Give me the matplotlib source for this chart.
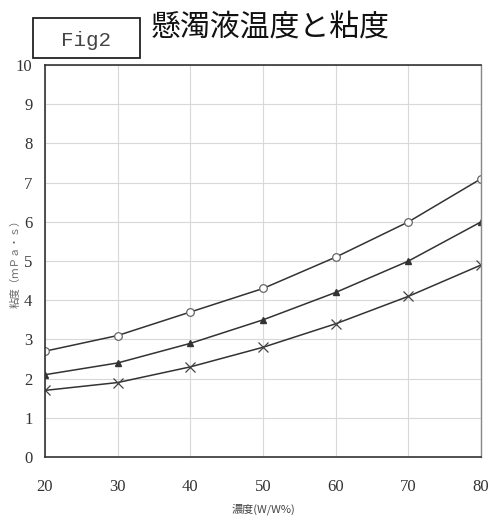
import matplotlib
matplotlib.use('Agg')
import matplotlib.pyplot as plt
from matplotlib.patches import Rectangle

# concentration (W/W%) and viscosity (mPa·s) for the three temperature series
conc = [20, 30, 40, 50, 60, 70, 80]
visc_high = [2.7, 3.1, 3.7, 4.3, 5.1, 6.0, 7.1]
visc_mid = [2.1, 2.4, 2.9, 3.5, 4.2, 5.0, 6.0]
visc_low = [1.7, 1.9, 2.3, 2.8, 3.4, 4.1, 4.9]

xticks = [20, 30, 40, 50, 60, 70, 80]
yticks = list(range(0, 11))

cjk = ['Noto Sans CJK JP', 'DejaVu Sans']
serif = 'Liberation Serif'

fig = plt.figure(figsize=(4.97, 5.25), dpi=100)
ax = fig.add_axes([0.0905, 0.1295, 0.8775, 0.7465])

line_kw = dict(color='#333333', linewidth=1.1)
ax.plot(conc, visc_high, marker='o', markersize=5.5, markerfacecolor='white',
        markeredgecolor='#666666', markeredgewidth=0.9, **line_kw)
ax.plot(conc, visc_mid, marker='^', markersize=5, markerfacecolor='#333333',
        markeredgecolor='#333333', **line_kw)
ax.plot(conc, visc_low, marker='x', markersize=7, markeredgecolor='#444444',
        markeredgewidth=0.9, **line_kw)

ax.set_xlim(20, 80)
ax.set_ylim(0, 10)
ax.set_xticks(xticks)
ax.set_yticks(yticks)
ax.grid(True, color='#d8d8d8', linewidth=0.8)
ax.tick_params(length=0, pad=16)
ax.tick_params(axis='y', pad=9)
for lab in ax.get_xticklabels() + ax.get_yticklabels():
    lab.set_fontfamily(serif)
    lab.set_fontsize(12)
    lab.set_color('#333333')

for side in ['left', 'bottom', 'top']:
    ax.spines[side].set_color('#333333')
    ax.spines[side].set_linewidth(1.2)
ax.spines['right'].set_color('#888888')
ax.spines['right'].set_linewidth(1.0)

ax.set_xlabel('濃度(W/W%)', family=cjk, fontsize=8, color='#444444', labelpad=6)
ax.set_ylabel('粘度（ｍＰａ・ｓ）', family=cjk, fontsize=7.5, color='#666666')
ax.yaxis.set_label_coords(-0.055, 0.5)

# figure tag box and title
fig.patches.append(Rectangle((33 / 497, 1 - 58 / 525), 107 / 497, 40 / 525,
                             transform=fig.transFigure, fill=False,
                             edgecolor='#222222', linewidth=1.3))
fig.text(86 / 497, 1 - 40 / 525, 'Fig2', family='Liberation Mono', fontsize=15,
         color='#444444', ha='center', va='center')
fig.text(270 / 497, 1 - 27 / 525, '懸濁液温度と粘度', family=cjk, fontsize=21.5,
         color='#111111', ha='center', va='center')

fig.savefig('out.png', dpi=100)
